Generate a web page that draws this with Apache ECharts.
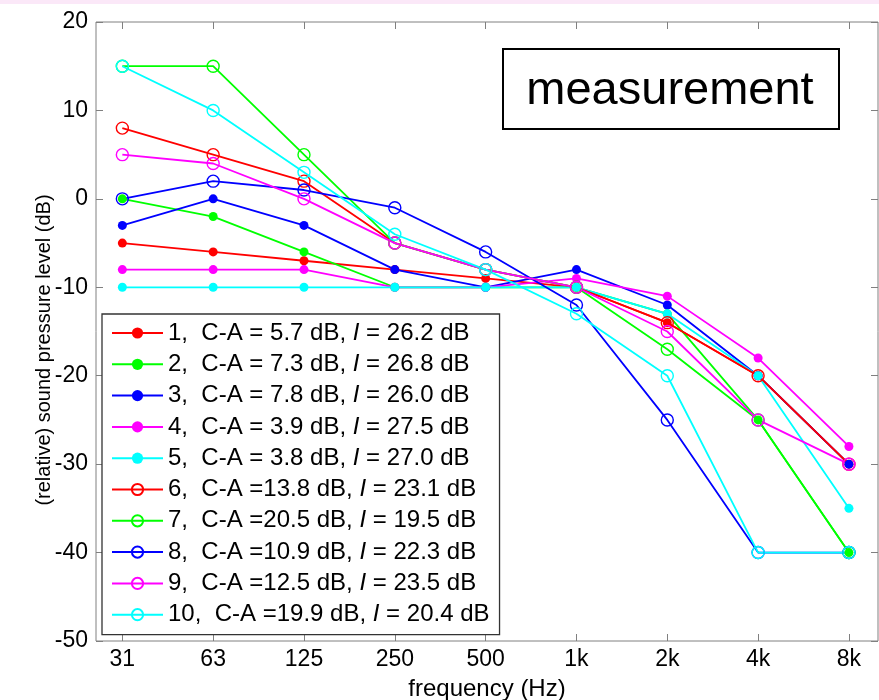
<!DOCTYPE html>
<html><head><meta charset="utf-8">
<script src="https://cdn.jsdelivr.net/npm/echarts@6/dist/echarts.min.js"></script>
<style>html,body{margin:0;padding:0;background:#fff}#c{width:879px;height:700px}</style>
</head><body><div id="c"></div>
<script>
const freqLabels = ['31','63','125','250','500','1k','2k','4k','8k'];
const caValues = ['5.7','7.3','7.8','3.9','3.8','13.8','20.5','10.9','12.5','19.9'];
const iValues = ['26.2','26.8','26.0','27.5','27.0','23.1','19.5','22.3','23.5','20.4'];
const s1  = [-5,-6,-7,-8,-9,-10,-14,-20,-30];
const s2  = [0,-2,-6,-10,-10,-10,-13,-25,-40];
const s3  = [-3,0,-3,-8,-10,-8,-12,-20,-30];
const s4  = [-8,-8,-8,-10,-10,-9,-11,-18,-28];
const s5  = [-10,-10,-10,-10,-10,-10,-13,-20,-35];
const s6  = [8,5,2,-5,-8,-10,-14,-20,-30];
const s7  = [15,15,5,-5,-8,-10,-17,-25,-40];
const s8  = [0,2,1,-1,-6,-12,-25,-40,-40];
const s9  = [5,4,0,-5,-8,-10,-15,-25,-30];
const s10 = [15,10,3,-4,-8,-13,-20,-40,-40];

const FONT = '"Liberation Sans", Arial, Helvetica, sans-serif';
const colors = ['#ff0000','#00ff00','#0000ff','#ff00ff','#00ffff'];
const seriesValues = [s1,s2,s3,s4,s5,s6,s7,s8,s9,s10];
const names = seriesValues.map((v,k)=>'series'+(k+1));
const tickIdx = freqLabels.map((l,i)=>i);

function legendText(name){
  const k = names.indexOf(name);
  const eq = k < 5 ? '= ' : '=';
  return '{t|' + (k+1) + ',  C-A ' + eq + caValues[k] + ' dB, }{i|I}{t| = ' + iValues[k] + ' dB}';
}

const series = seriesValues.map((vals,k)=>{
  const c = colors[k%5];
  const open = k >= 5;
  return {
    name: names[k], type:'line',
    data: vals.map((v,i)=>[i,v]),
    symbol:'circle', symbolSize: open ? 12 : 9,
    lineStyle:{color:c, width:1.8},
    itemStyle: open ? {color:'rgba(255,255,255,0)', borderColor:c, borderWidth:1.4}
                    : {color:c, borderColor:c, borderWidth:0},
    emphasis:{disabled:true},
    animation:false
  };
});

const tickStyle = {color:'#808080', width:1};
const chart = echarts.init(document.getElementById('c'));
chart.setOption({
  animation:false,
  backgroundColor:'#fff',
  grid:{left:96, top:22, right:1, bottom:59, show:true, borderColor:'#808080', borderWidth:1,
        containLabel:false, outerBoundsMode:'none'},
  xAxis:[{
    type:'value', min:-0.29, max:8.32, position:'bottom',
    axisLine:{show:false, onZero:false}, splitLine:{show:false},
    axisTick:{show:true, inside:true, length:7, customValues:tickIdx, lineStyle:tickStyle},
    axisLabel:{customValues:tickIdx, formatter:v=>freqLabels[Math.round(v)], fontSize:23, color:'#000', margin:7, fontFamily:FONT},
    name:'frequency (Hz)', nameLocation:'middle', nameGap:36,
    nameTextStyle:{fontSize:24, color:'#000', fontFamily:FONT}
  },{
    type:'value', min:-0.29, max:8.32, position:'top',
    axisLine:{show:false, onZero:false}, splitLine:{show:false},
    axisTick:{show:true, inside:true, length:7, customValues:tickIdx, lineStyle:tickStyle},
    axisLabel:{show:false}
  }],
  yAxis:[{
    type:'value', min:-50, max:20, interval:10, position:'left',
    axisLine:{show:false, onZero:false}, splitLine:{show:false},
    axisTick:{show:true, inside:true, length:7, lineStyle:tickStyle},
    axisLabel:{fontSize:23, color:'#000', margin:8, fontFamily:FONT}
  },{
    type:'value', min:-50, max:20, interval:10, position:'right',
    axisLine:{show:false, onZero:false}, splitLine:{show:false},
    axisTick:{show:true, inside:true, length:7, lineStyle:tickStyle},
    axisLabel:{show:false}
  }],
  legend:{
    orient:'vertical', left:102, top:314, padding:[7,10,8,9],
    itemWidth:51, itemHeight:14, itemGap:7.3,
    backgroundColor:'#fff', borderColor:'#333', borderWidth:1.3,
    selectedMode:false, data:names,
    formatter:legendText,
    textStyle:{fontSize:24, lineHeight:22, color:'#000', fontFamily:FONT,
      rich:{t:{fontSize:24, lineHeight:22, color:'#000', fontFamily:FONT},
            i:{fontSize:24, lineHeight:22, color:'#000', fontFamily:FONT, fontStyle:'italic'}}}
  },
  graphic:[
    {type:'rect', shape:{x:0,y:0,width:879,height:4}, style:{fill:'#fbe8f8'}, z:100},
    {type:'rect', shape:{x:503,y:49,width:336,height:80}, style:{fill:'#fff', stroke:'#000', lineWidth:2}, z:100},
    {type:'text', x:670, y:91, style:{text:'measurement', fontSize:47, fontFamily:FONT, fill:'#000', align:'center', verticalAlign:'middle'}, z:101},
    {type:'text', x:44, y:350, rotation:Math.PI/2, style:{text:'(relative) sound pressure level (dB)', fontSize:20, fontFamily:FONT, fill:'#000', align:'center', verticalAlign:'middle'}, z:101}
  ],
  series: series
});
</script></body></html>
